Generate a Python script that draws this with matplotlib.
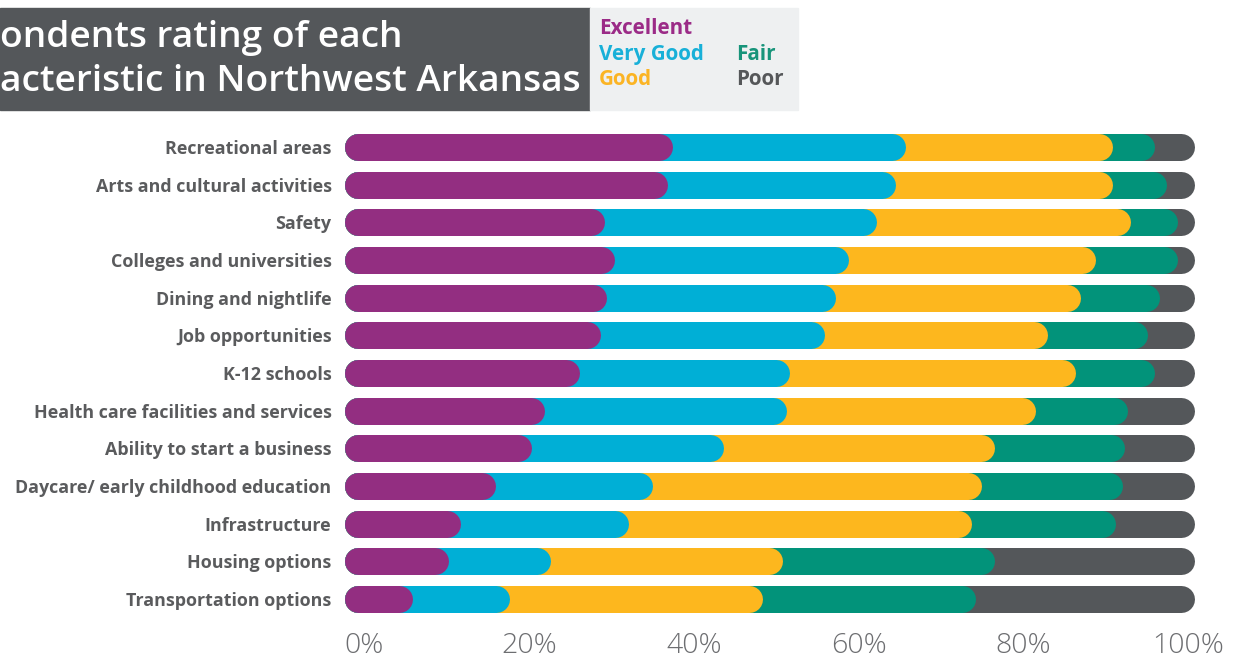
import matplotlib
matplotlib.use("Agg")
import matplotlib.pyplot as plt
import numpy as np
from matplotlib.patches import Rectangle

# Share of respondents (%) per rating
categories = [
    "Recreational areas",
    "Arts and cultural activities",
    "Safety",
    "Colleges and universities",
    "Dining and nightlife",
    "Job opportunities",
    "K-12 schools",
    "Health care facilities and services",
    "Ability to start a business",
    "Daycare/ early childhood education",
    "Infrastructure",
    "Housing options",
    "Transportation options",
]
excellent = [38.7, 38.0, 30.7, 31.8, 30.9, 30.2, 27.7, 23.6, 22.0, 17.8, 13.7, 12.3, 8.0]
very_good = [27.3, 26.9, 32.0, 27.6, 26.9, 26.3, 24.7, 28.5, 22.7, 18.5, 19.8, 12.0, 11.5]
good = [24.4, 25.5, 29.8, 29.0, 28.9, 26.3, 33.6, 29.2, 31.8, 38.7, 40.3, 27.3, 29.7]
fair = [5.0, 6.4, 5.5, 9.6, 9.2, 11.7, 9.3, 10.9, 15.3, 16.6, 17.0, 24.9, 25.1]
poor = [4.6, 3.2, 2.0, 2.0, 4.1, 5.5, 4.7, 7.8, 8.2, 8.4, 9.2, 23.5, 25.7]

ratings = ["Excellent", "Very Good", "Good", "Fair", "Poor"]
tick_labels = ["0%", "20%", "40%", "60%", "80%", "100%"]

BAR_COLORS = ["#932e81", "#00afd6", "#fdb71e", "#02937a", "#54575a"]
TEXT_COLORS = ["#9b2b87", "#18b0d8", "#fbb424", "#17947a", "#555759"]
LABEL_GREY = "#5a5b5d"

plt.rcParams["font.family"] = ["Open Sans", "DejaVu Sans"]

W, H = 1234, 665
fig = plt.figure(figsize=(W / 100, H / 100), dpi=100)

# axes placed so 0..100 % spans pixel 344..1194
ax_left, ax_right = 344, 1194
row_top, row_step = 147, 37.67
ax_top = row_top - row_step / 2
ax_h = row_step * len(categories)
ax = fig.add_axes([ax_left / W, 1 - (ax_top + ax_h) / H,
                   (ax_right - ax_left) / W, ax_h / H])
ax.set_xlim(0, 100)
ax.set_ylim(len(categories) - 0.5, -0.5)

bar_px = 27
lw_pt = bar_px * 72 / 100
cap = (bar_px / 2) / ((ax_right - ax_left) / 100)  # cap radius in data units

series = np.array([excellent, very_good, good, fair, poor])
cum = np.cumsum(series, axis=0)
y = np.arange(len(categories))

# draw from the last rating back to the first so each rounded end overlaps the next
for k in range(len(ratings) - 1, -1, -1):
    for i in y:
        end = cum[k, i] if k < len(ratings) - 1 else 100
        ax.plot([cap, end - cap], [i, i], color=BAR_COLORS[k], lw=lw_pt,
                solid_capstyle="round", clip_on=False)

ax.set_yticks(y)
ax.set_yticklabels(categories, fontsize=12.9, fontweight="bold", color=LABEL_GREY)
ax.tick_params(axis="y", length=0, pad=9)
ax.set_xticks(np.linspace(2.4, 99.3, 6))
ax.set_xticklabels(tick_labels, fontsize=20.5, fontweight="light", color="#6d6e71")
ax.tick_params(axis="x", length=0, pad=10)
for s in ax.spines.values():
    s.set_visible(False)

# title block (text runs off the left edge in the source)
fig.patches.append(Rectangle((0, 1 - 110 / H), 590 / W, 102 / H,
                             transform=fig.transFigure, color="#54575a", zorder=0))
fig.text(0, 1 - 47 / H, "ondents rating of each", color="white",
         fontsize=26.7, fontweight="semibold", va="baseline", ha="left")
fig.text(0, 1 - 91 / H, "acteristic in Northwest Arkansas", color="white",
         fontsize=26.7, fontweight="semibold", va="baseline", ha="left")

# legend block
fig.patches.append(Rectangle((590 / W, 1 - 110 / H), 208 / W, 102 / H,
                             transform=fig.transFigure, color="#eef0f1", zorder=0))
legend_pos = [(599, 34), (599, 60), (599, 85), (736, 60), (736, 85)]
for (px, py), name, col in zip(legend_pos, ratings, TEXT_COLORS):
    fig.text(px / W, 1 - py / H, name, color=col, fontsize=14.9,
             fontweight="bold", va="baseline", ha="left")

fig.savefig("out.png", dpi=100)
